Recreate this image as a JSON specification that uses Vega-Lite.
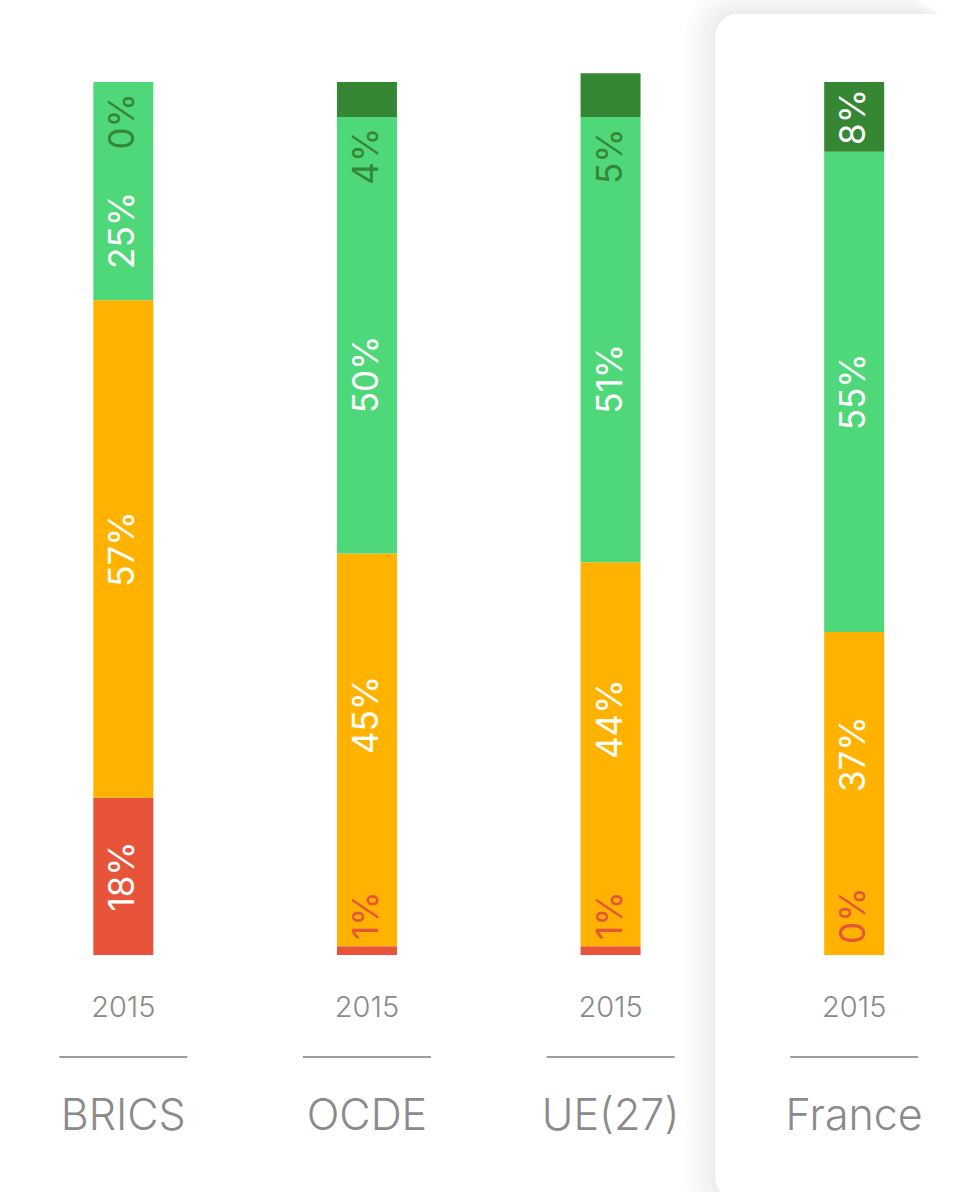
{
  "$schema": "https://vega.github.io/schema/vega-lite/v6.json",
  "width": 958,
  "height": 1192,
  "autosize": {"type": "none"},
  "padding": 0,
  "background": "white",
  "config": {"view": {"stroke": null}, "font": "Inter"},
  "datasets": {
    "segments": [
      {"country": "BRICS", "level": 1, "value": 18},
      {"country": "BRICS", "level": 2, "value": 57},
      {"country": "BRICS", "level": 3, "value": 25},
      {"country": "BRICS", "level": 4, "value": 0},
      {"country": "OCDE", "level": 1, "value": 1},
      {"country": "OCDE", "level": 2, "value": 45},
      {"country": "OCDE", "level": 3, "value": 50},
      {"country": "OCDE", "level": 4, "value": 4},
      {"country": "UE(27)", "level": 1, "value": 1},
      {"country": "UE(27)", "level": 2, "value": 44},
      {"country": "UE(27)", "level": 3, "value": 51},
      {"country": "UE(27)", "level": 4, "value": 5},
      {"country": "France", "level": 1, "value": 0},
      {"country": "France", "level": 2, "value": 37},
      {"country": "France", "level": 3, "value": 55},
      {"country": "France", "level": 4, "value": 8}
    ],
    "countries": [
      {"country": "BRICS", "year": "2015"},
      {"country": "OCDE", "year": "2015"},
      {"country": "UE(27)", "year": "2015"},
      {"country": "France", "year": "2015", "highlight": true}
    ]
  },
  "encoding": {
    "x": {
      "field": "country",
      "type": "nominal",
      "sort": ["BRICS", "OCDE", "UE(27)", "France"],
      "scale": {"domain": ["BRICS", "OCDE", "UE(27)", "France"], "range": [1.5, 976], "paddingInner": 0, "paddingOuter": 0},
      "axis": null
    }
  },
  "layer": [
    {
      "data": {"name": "countries"},
      "transform": [{"filter": "datum.highlight"}],
      "layer": [
        {"mark": {"type": "rect", "color": "black", "opacity": 0.01, "cornerRadius": 52, "xOffset": -47, "x2Offset": 60, "yOffset": -30, "y2Offset": 30}, "encoding": {"y": {"datum": 107.79, "type": "quantitative", "scale": {"domain": [-27.15, 109.39], "nice": false, "zero": false}, "axis": null}, "y2": {"datum": -28.07}}},
        {"mark": {"type": "rect", "color": "black", "opacity": 0.01, "cornerRadius": 46, "xOffset": -41, "x2Offset": 60, "yOffset": -24, "y2Offset": 24}, "encoding": {"y": {"datum": 107.79, "type": "quantitative"}, "y2": {"datum": -28.07}}},
        {"mark": {"type": "rect", "color": "black", "opacity": 0.01, "cornerRadius": 40, "xOffset": -35, "x2Offset": 60, "yOffset": -18, "y2Offset": 18}, "encoding": {"y": {"datum": 107.79, "type": "quantitative"}, "y2": {"datum": -28.07}}},
        {"mark": {"type": "rect", "color": "black", "opacity": 0.01, "cornerRadius": 34, "xOffset": -29, "x2Offset": 60, "yOffset": -12, "y2Offset": 12}, "encoding": {"y": {"datum": 107.79, "type": "quantitative"}, "y2": {"datum": -28.07}}},
        {"mark": {"type": "rect", "color": "black", "opacity": 0.01, "cornerRadius": 28, "xOffset": -23, "x2Offset": 60, "yOffset": -6, "y2Offset": 6}, "encoding": {"y": {"datum": 107.79, "type": "quantitative"}, "y2": {"datum": -28.07}}},
        {"mark": {"type": "rect", "color": "black", "opacity": 0.01, "cornerRadius": 25, "xOffset": -20, "x2Offset": 60, "yOffset": -3, "y2Offset": 3}, "encoding": {"y": {"datum": 107.79, "type": "quantitative"}, "y2": {"datum": -28.07}}},
        {"mark": {"type": "rect", "color": "white", "cornerRadius": 22, "xOffset": -17, "x2Offset": 60}, "encoding": {"y": {"datum": 107.79, "type": "quantitative"}, "y2": {"datum": -28.07}}}
      ]
    },
    {
      "data": {"name": "segments"},
      "transform": [
        {"stack": "value", "groupby": ["country"], "sort": [{"field": "level"}], "as": ["y0", "y1"]},
        {"window": [
          {"op": "lag", "field": "value", "as": "prevValue"},
          {"op": "lag", "field": "y0", "as": "prevY0"},
          {"op": "lead", "field": "value", "as": "nextValue"},
          {"op": "lead", "field": "level", "as": "nextLevel"}
        ], "groupby": ["country"], "sort": [{"field": "level"}]},
        {"calculate": "datum.value < 7", "as": "small"},
        {"calculate": "datum.level == 4 && datum.small ? datum.y0 - 9 : (datum.level == 2 && datum.prevValue < 7 ? datum.prevY0 + 9 : datum.y0)", "as": "lo"},
        {"calculate": "datum.level == 1 && datum.small ? datum.y0 + 9 : (datum.level == 4 && datum.small ? datum.y0 : (datum.nextLevel == 4 && datum.nextValue < 7 ? datum.y1 - 9 : datum.y1))", "as": "hi"},
        {"calculate": "(datum.lo + datum.hi) / 2", "as": "labelPos"},
        {"calculate": "datum.value + '%'", "as": "label"}
      ],
      "layer": [
        {
          "mark": {"type": "bar", "width": 60},
          "encoding": {
            "y": {"field": "y1", "type": "quantitative", "axis": null},
            "y2": {"field": "y0"},
            "color": {"field": "level", "type": "nominal", "scale": {"domain": [1, 2, 3, 4], "range": ["#E8543A", "#FFB300", "#4FD879", "#358734"]}, "legend": null}
          }
        },
        {
          "mark": {"type": "text", "angle": 270, "fontSize": 35, "align": "center", "baseline": "middle", "font": "Inter"},
          "encoding": {
            "y": {"field": "labelPos", "type": "quantitative"},
            "text": {"field": "label"},
            "color": {"condition": {"test": "datum.value >= 7", "value": "white"}, "field": "level", "type": "nominal", "legend": null}
          }
        }
      ]
    },
    {
      "data": {"name": "countries"},
      "layer": [
        {
          "mark": {"type": "text", "fontSize": 29, "fontWeight": 300, "color": "#8A8A8A", "baseline": "middle", "align": "center"},
          "encoding": {"y": {"datum": -6.07, "type": "quantitative"}, "text": {"field": "year"}}
        },
        {
          "mark": {"type": "tick", "orient": "horizontal", "size": 128, "thickness": 2, "color": "#9E9E9E", "opacity": 1},
          "encoding": {"y": {"datum": -11.69, "type": "quantitative"}}
        },
        {
          "mark": {"type": "text", "fontSize": 43, "fontWeight": 300, "color": "#8A8A8A", "baseline": "middle", "align": "center"},
          "encoding": {"y": {"datum": -18.6, "type": "quantitative"}, "text": {"field": "country"}}
        }
      ]
    }
  ]
}
